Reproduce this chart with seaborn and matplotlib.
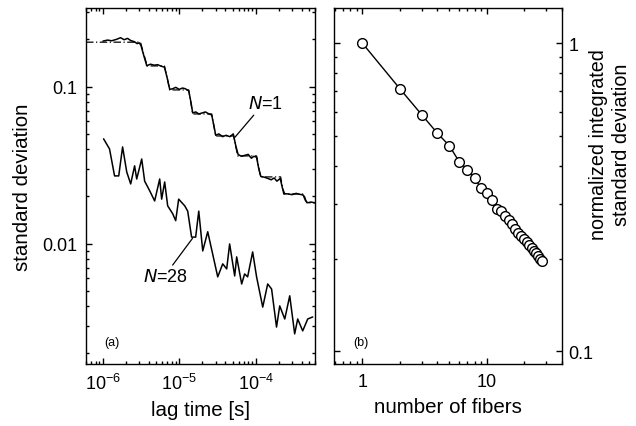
import numpy as np
import pandas as pd
import seaborn as sns
import matplotlib.pyplot as plt
from matplotlib.ticker import LogLocator, NullFormatter, FixedLocator, FixedFormatter

# ---- panel (a): standard deviation vs lag time ----
lag_n1 = [1.0e-6, 1.15e-6, 1.3e-6, 1.5e-6, 1.7e-6, 1.9e-6, 2.1e-6, 2.3e-6, 2.6e-6, 2.8e-6,
          3.0e-6, 3.15e-6, 3.4e-6, 3.75e-6, 4.2e-6, 4.7e-6, 5.2e-6, 5.8e-6, 6.4e-6, 7.0e-6,
          7.5e-6, 8.2e-6, 9.0e-6, 1.0e-5, 1.1e-5, 1.2e-5, 1.33e-5, 1.42e-5, 1.5e-5, 1.65e-5,
          1.8e-5, 2.0e-5, 2.2e-5, 2.45e-5, 2.66e-5, 2.85e-5, 3.0e-5, 3.3e-5, 3.7e-5, 4.1e-5,
          4.6e-5, 5.1e-5, 5.5e-5, 5.9e-5, 6.5e-5, 7.2e-5, 8.0e-5, 8.8e-5, 9.5e-5, 1.03e-4,
          1.1e-4, 1.17e-4, 1.3e-4, 1.45e-4, 1.6e-4, 1.75e-4, 1.9e-4, 2.1e-4, 2.25e-4, 2.4e-4,
          2.7e-4, 3.0e-4, 3.4e-4, 3.8e-4, 4.2e-4, 4.5e-4, 4.8e-4, 5.3e-4, 6.0e-4]
sd_n1 = [0.195, 0.198, 0.196, 0.200, 0.205, 0.199, 0.203, 0.197, 0.193, 0.188,
         0.190, 0.183, 0.160, 0.136, 0.139, 0.137, 0.138, 0.135, 0.133, 0.112,
         0.096, 0.097, 0.099, 0.096, 0.098, 0.097, 0.094, 0.080, 0.068, 0.069,
         0.067, 0.068, 0.069, 0.067, 0.066, 0.056, 0.049, 0.050, 0.048, 0.049,
         0.048, 0.050, 0.042, 0.037, 0.036, 0.0365, 0.037, 0.035, 0.036, 0.0355,
         0.030, 0.0268, 0.0265, 0.026, 0.0255, 0.0262, 0.025, 0.026, 0.0225, 0.0208,
         0.0207, 0.0205, 0.0209, 0.0206, 0.0204, 0.0188, 0.0182, 0.0184, 0.0182]

lag_fit = [6e-7, 3.1e-6, 3.8e-6, 6.4e-6, 7.5e-6, 1.33e-5, 1.5e-5, 2.66e-5, 3.0e-5,
           5.16e-5, 5.82e-5, 1.03e-4, 1.16e-4, 2.13e-4, 2.33e-4, 4.27e-4, 4.67e-4, 6e-4]
sd_fit = [0.192, 0.192, 0.1355, 0.1355, 0.0953, 0.0953, 0.067, 0.067, 0.0485,
          0.0485, 0.0362, 0.0362, 0.0266, 0.0266, 0.0207, 0.0207, 0.0182, 0.0182]

lag_n28 = [1.02e-6, 1.22e-6, 1.42e-6, 1.61e-6, 1.81e-6, 2.05e-6, 2.31e-6, 2.60e-6, 2.77e-6, 3.22e-6,
           3.52e-6, 4.10e-6, 4.76e-6, 5.54e-6, 5.88e-6, 6.44e-6, 7.05e-6, 8.20e-6, 8.98e-6, 9.82e-6,
           1.18e-5, 1.29e-5, 1.45e-5, 1.64e-5, 1.80e-5, 2.03e-5, 2.36e-5, 3.19e-5, 3.71e-5, 4.18e-5,
           4.57e-5, 5.32e-5, 5.65e-5, 6.57e-5, 7.18e-5, 7.86e-5, 9.15e-5, 1.03e-4, 1.24e-4, 1.44e-4,
           1.62e-4, 1.88e-4, 2.07e-4, 2.41e-4, 2.80e-4, 3.25e-4, 3.56e-4, 4.14e-4, 4.82e-4, 5.60e-4]
sd_n28 = [0.0465, 0.0401, 0.0270, 0.0270, 0.0413, 0.0286, 0.0240, 0.0313, 0.0258, 0.0346,
          0.0250, 0.0217, 0.0187, 0.0258, 0.0192, 0.0247, 0.0174, 0.0155, 0.0140, 0.0192,
          0.0174, 0.0161, 0.0110, 0.0110, 0.0161, 0.00898, 0.0119, 0.00614, 0.00743, 0.00690,
          0.00995, 0.00622, 0.00823, 0.00553, 0.00641, 0.00614, 0.00885, 0.00614, 0.00394, 0.00553,
          0.00514, 0.00294, 0.00401, 0.00331, 0.00465, 0.00266, 0.00331, 0.00278, 0.00331, 0.00341]

# ---- panel (b): normalized integrated standard deviation vs number of fibers ----
n_fibers = list(range(1, 29))
norm_sd = [1.0, 0.712, 0.586, 0.511, 0.465, 0.413, 0.389, 0.365, 0.338, 0.326,
           0.310, 0.290, 0.285, 0.274, 0.266, 0.258, 0.250, 0.243, 0.237, 0.231,
           0.226, 0.221, 0.217, 0.212, 0.208, 0.204, 0.200, 0.196]

sns.set_style('ticks')
plt.rcParams['font.family'] = ['Liberation Sans', 'DejaVu Sans']
plt.rcParams['mathtext.default'] = 'regular'
plt.rcParams['axes.linewidth'] = 1.0
plt.rcParams['text.color'] = 'black'
plt.rcParams['axes.labelcolor'] = 'black'
plt.rcParams['xtick.color'] = 'black'
plt.rcParams['ytick.color'] = 'black'
plt.rcParams['axes.edgecolor'] = 'black'

fig = plt.figure(figsize=(6.36, 4.27), dpi=100)
ax1 = fig.add_axes([86 / 636, 62 / 427, 229 / 636, 356 / 427])
ax2 = fig.add_axes([334 / 636, 62 / 427, 228 / 636, 356 / 427])

sns.lineplot(x=lag_fit, y=sd_fit, ax=ax1, color='black', lw=0.9, ls=(0, (6, 2, 1, 2)),
             estimator=None, sort=False)
sns.lineplot(x=lag_n1, y=sd_n1, ax=ax1, color='black', lw=1.1, estimator=None, sort=False)
sns.lineplot(x=lag_n28, y=sd_n28, ax=ax1, color='black', lw=1.1, estimator=None, sort=False)

ax1.set_xscale('log')
ax1.set_yscale('log')
ax1.set_xlim(6e-7, 6e-4)
ax1.set_ylim(0.00171, 0.317)
ax1.yaxis.set_major_locator(FixedLocator([0.01, 0.1]))
ax1.yaxis.set_major_formatter(FixedFormatter(['0.01', '0.1']))
ax1.yaxis.set_minor_locator(LogLocator(subs=np.arange(2, 10)))
ax1.yaxis.set_minor_formatter(NullFormatter())
ax1.xaxis.set_major_locator(LogLocator())
ax1.xaxis.set_minor_locator(LogLocator(subs=np.arange(2, 10)))
ax1.xaxis.set_minor_formatter(NullFormatter())
ax1.set_xlabel('lag time [s]', fontsize=14.8, labelpad=5)
ax1.set_ylabel('standard deviation', fontsize=14.8, labelpad=7)

ax1.annotate('$\\it{N}$=1', xy=(5.36e-5, 0.0476), xytext=(1.34e-4, 0.0782),
             ha='center', va='center', fontsize=13,
             arrowprops=dict(arrowstyle='-', color='black', lw=0.9, shrinkA=0, shrinkB=0,
                             relpos=(0.25, 0.0)))
ax1.annotate('$\\it{N}$=28', xy=(1.49e-5, 0.0108), xytext=(6.64e-6, 0.00614),
             ha='center', va='center', fontsize=13,
             arrowprops=dict(arrowstyle='-', color='black', lw=0.9, shrinkA=0, shrinkB=0,
                             relpos=(0.6, 1.0)))
ax1.text(0.111, 0.062, '(a)', transform=ax1.transAxes, ha='center', va='center', fontsize=9)

sns.lineplot(x=n_fibers, y=norm_sd, ax=ax2, color='black', lw=1.0, marker='o',
             markersize=7, markerfacecolor='white', markeredgecolor='black',
             markeredgewidth=1.0, estimator=None, sort=False)
ax2.set_xscale('log')
ax2.set_yscale('log')
ax2.set_xlim(0.592, 40.3)
ax2.set_ylim(0.091, 1.30)
ax2.xaxis.set_major_locator(FixedLocator([1, 10]))
ax2.xaxis.set_major_formatter(FixedFormatter(['1', '10']))
ax2.xaxis.set_minor_locator(LogLocator(subs=np.arange(2, 10)))
ax2.xaxis.set_minor_formatter(NullFormatter())
ax2.yaxis.set_major_locator(FixedLocator([0.1, 1]))
ax2.yaxis.set_major_formatter(FixedFormatter(['0.1', '1']))
ax2.yaxis.set_minor_locator(LogLocator(subs=np.arange(2, 10)))
ax2.yaxis.set_minor_formatter(NullFormatter())
ax2.set_xlabel('number of fibers', fontsize=14.8, labelpad=5)
ax2.set_ylabel('')
ax2.text(1.2105, 0.618, 'normalized integrated\nstandard deviation', transform=ax2.transAxes,
         rotation=90, ha='center', va='center', fontsize=14.2, linespacing=1.25)
ax2.text(0.116, 0.063, '(b)', transform=ax2.transAxes, ha='center', va='center', fontsize=9)

for ax in (ax1, ax2):
    ax.tick_params(which='both', direction='in', top=True, right=True, width=1.0,
                   labelsize=13, pad=6.5)
    ax.tick_params(which='major', length=4.2)
    ax.tick_params(which='minor', length=2.4)
    for s in ax.spines.values():
        s.set_linewidth(1.0)
ax2.tick_params(which='both', labelleft=False, labelright=True)
ax2.tick_params(axis='y', pad=4.5)

fig.savefig('out.png', dpi=100)
